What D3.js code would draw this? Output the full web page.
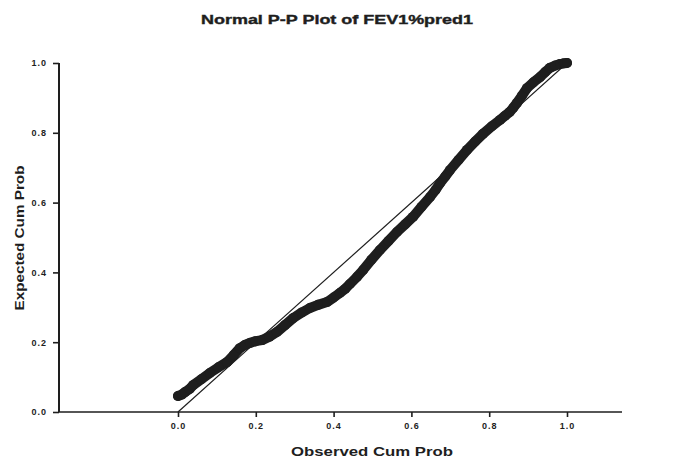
<!DOCTYPE html>
<meta charset="utf-8">
<body>
<script src="https://cdn.jsdelivr.net/npm/d3@7"></script>
<style>
    html, body {
        margin: 0;
        background: #fff;
    }
    text {
        font-family: "Liberation Sans", Arial, sans-serif;
        font-weight: bold;
        fill: #1e1e1e;
    }
</style>
<script>
var width = 675,
    height = 459;

// observed cum prob (x) vs expected cum prob (y)
var observed = [0.000, 0.010, 0.018, 0.030, 0.039, 0.060, 0.082, 0.104, 0.126, 0.143, 0.159, 0.172,
    0.185, 0.200, 0.216, 0.235, 0.254, 0.275, 0.296, 0.318, 0.339, 0.360, 0.383, 0.400, 0.416,
    0.430, 0.442, 0.460, 0.476, 0.497, 0.519, 0.541, 0.563, 0.584, 0.604, 0.626, 0.648, 0.662,
    0.674, 0.687, 0.699, 0.721, 0.743, 0.764, 0.784, 0.806, 0.828, 0.841, 0.853, 0.862, 0.871,
    0.884, 0.897, 0.914, 0.931, 0.944, 0.956, 0.970, 0.982, 0.992, 1.000];
var expected = [0.046, 0.050, 0.057, 0.066, 0.077, 0.094, 0.112, 0.128, 0.143, 0.163, 0.183, 0.192,
    0.198, 0.203, 0.206, 0.216, 0.229, 0.249, 0.269, 0.285, 0.298, 0.307, 0.315, 0.328, 0.341,
    0.353, 0.367, 0.387, 0.407, 0.436, 0.464, 0.490, 0.516, 0.538, 0.559, 0.588, 0.616, 0.636,
    0.656, 0.675, 0.693, 0.722, 0.751, 0.775, 0.797, 0.818, 0.837, 0.849, 0.860, 0.872, 0.885,
    0.906, 0.928, 0.945, 0.960, 0.974, 0.986, 0.993, 0.997, 0.999, 1.000];
var ticks = [0, 0.2, 0.4, 0.6, 0.8, 1.0];
var tickLabels = ["0.0", "0.2", "0.4", "0.6", "0.8", "1.0"];

var svg = d3.select("body").append("svg")
    .attr("width", width)
    .attr("height", height);

var x = d3.scaleLinear().domain([0, 1]).range([178, 567]),
    y = d3.scaleLinear().domain([0, 1]).range([412, 63]);

var ink = "#1e1e1e";

// title
svg.append("text")
    .attr("x", 337)
    .attr("y", 24)
    .attr("text-anchor", "middle")
    .attr("textLength", 272)
    .attr("lengthAdjust", "spacingAndGlyphs")
    .style("font-size", "13px")
    .style("stroke", ink)
    .style("stroke-width", 0.4)
    .text("Normal P-P Plot of FEV1%pred1");

// axes
var xAxis = svg.append("g")
    .attr("transform", "translate(0," + y(0) + ")")
    .call(d3.axisBottom(x).tickValues(ticks).tickSize(5).tickPadding(6)
        .tickFormat(function(d, i) { return tickLabels[i]; }));
xAxis.select(".domain").remove();
xAxis.append("line")
    .attr("x1", 59).attr("x2", 622)
    .attr("stroke", ink).attr("stroke-width", 1.6);

var yAxis = svg.append("g")
    .attr("transform", "translate(59,0)")
    .call(d3.axisLeft(y).tickValues(ticks).tickSize(6).tickPadding(6)
        .tickFormat(function(d, i) { return tickLabels[i]; }));
yAxis.select(".domain")
    .attr("d", "M0," + y(1) + "V" + y(0))
    .attr("stroke", ink).attr("stroke-width", 2);

svg.selectAll(".tick line").attr("stroke", ink).attr("stroke-width", 1.6);
svg.selectAll(".tick text")
    .style("font-size", "9px")
    .style("letter-spacing", "1px")
    .attr("fill", ink);

// reference diagonal
svg.append("line")
    .attr("x1", x(0)).attr("y1", y(0))
    .attr("x2", x(1)).attr("y2", y(1))
    .attr("stroke", ink)
    .attr("stroke-width", 1.2);

// data band
var pts = observed.map(function(d, i) { return [d, expected[i]]; });

svg.append("path")
    .datum(pts)
    .attr("fill", "none")
    .attr("stroke", ink)
    .attr("stroke-width", 10)
    .attr("stroke-linejoin", "round")
    .attr("stroke-linecap", "round")
    .attr("d", d3.line().x(function(d) { return x(d[0]); }).y(function(d) { return y(d[1]); }));

svg.selectAll("circle")
    .data(pts)
    .enter().append("circle")
    .attr("cx", function(d) { return x(d[0]); })
    .attr("cy", function(d) { return y(d[1]); })
    .attr("r", 5)
    .attr("fill", ink);

// axis titles
svg.append("text")
    .attr("transform", "translate(24,238)rotate(-90)")
    .attr("text-anchor", "middle")
    .attr("textLength", 145)
    .attr("lengthAdjust", "spacingAndGlyphs")
    .style("font-size", "12px")
    .text("Expected Cum Prob");

svg.append("text")
    .attr("x", 372)
    .attr("y", 456)
    .attr("text-anchor", "middle")
    .attr("textLength", 162)
    .attr("lengthAdjust", "spacingAndGlyphs")
    .style("font-size", "12px")
    .text("Observed Cum Prob");
</script>
